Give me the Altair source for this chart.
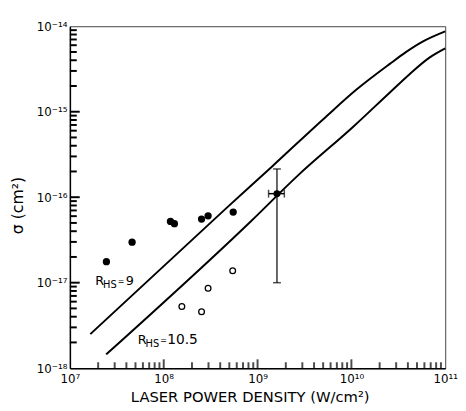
import altair as alt
import pandas as pd

# ---------------- data ----------------
# R_HS = 9 curve
curve9_x = [1.65e7, 4.62e8, 1.43e9, 5.15e9, 1.15e10, 2.57e10, 3.84e10, 5.74e10, 1.0e11]
curve9_y = [2.5e-18, 7.4e-17, 2.29e-16, 8.4e-16, 1.84e-15, 3.63e-15, 5.01e-15, 6.61e-15, 8.71e-15]
# R_HS = 10.5 curve
curve105_x = [2.44e7, 8.45e8, 2.7e9, 1.06e10, 2.57e10, 4.17e10, 6.79e10, 1.0e11]
curve105_y = [1.45e-18, 5.2e-17, 1.8e-16, 6.76e-16, 1.68e-15, 2.75e-15, 4.29e-15, 5.5e-15]

# filled circles
filled_x = [2.45e7, 4.6e7, 1.18e8, 1.30e8, 2.53e8, 2.97e8, 5.5e8]
filled_y = [1.76e-17, 2.98e-17, 5.2e-17, 4.9e-17, 5.55e-17, 6.05e-17, 6.7e-17]
# open circles
open_x = [1.56e8, 2.53e8, 2.97e8, 5.43e8]
open_y = [5.26e-18, 4.58e-18, 8.6e-18, 1.38e-17]

# point with error bars
err_x = [1.61e9]
err_y = [1.1e-16]
err_y_lo = [1.0e-17]
err_y_hi = [2.14e-16]
err_x_lo = [1.31e9]
err_x_hi = [1.93e9]

# axes
x_tick_values = [1e7, 1e8, 1e9, 1e10, 1e11]
x_tick_labels = ["10⁷", "10⁸", "10⁹", "10¹⁰", "10¹¹"]
y_tick_values = [1e-18, 1e-17, 1e-16, 1e-15, 1e-14]
y_tick_labels = ["10⁻¹⁸", "10⁻¹⁷", "10⁻¹⁶", "10⁻¹⁵", "10⁻¹⁴"]
minor_mult = [2, 3, 4, 5, 6, 7, 8, 9]
x_decades = [1e7, 1e8, 1e9, 1e10]
y_decades = [1e-18, 1e-17, 1e-16, 1e-15]

# curve labels (anchor positions in data units)
label9_pos = (1.86e7, 9.3e-18)
label105_pos = (5.28e7, 1.9e-18)

# ---------------- build tables ----------------
df9 = pd.DataFrame({"x": curve9_x, "y": curve9_y})
df105 = pd.DataFrame({"x": curve105_x, "y": curve105_y})
dff = pd.DataFrame({"x": filled_x, "y": filled_y})
dfo = pd.DataFrame({"x": open_x, "y": open_y})
dfe = pd.DataFrame({"x": err_x, "y": err_y, "ylo": err_y_lo, "yhi": err_y_hi,
                    "xlo": err_x_lo, "xhi": err_x_hi})
x_minor = pd.DataFrame({"x": [d * m for d in x_decades for m in minor_mult]})
x_major = pd.DataFrame({"x": x_tick_values[1:-1]})
y_minor = pd.DataFrame({"y": [d * m for d in y_decades for m in minor_mult]})
y_major = pd.DataFrame({"y": y_tick_values[1:-1]})
lab9 = pd.DataFrame({"x": [label9_pos[0]], "y": [label9_pos[1]]})
lab105 = pd.DataFrame({"x": [label105_pos[0]], "y": [label105_pos[1]]})

W, H = 382, 348
FONT = "DejaVu Sans"

xs = alt.Scale(type="log", domain=[1e7, 1e11], nice=False)
ys = alt.Scale(type="log", domain=[1e-18, 1e-14], nice=False)

x_lab_arr = "[" + ",".join("'" + s + "'" for s in x_tick_labels) + "]"
y_lab_arr = "[" + ",".join("'" + s + "'" for s in y_tick_labels) + "]"

x_axis = alt.Axis(
    values=x_tick_values,
    labelExpr=x_lab_arr + "[round(log(datum.value)/LN10) - 7]",
    ticks=False, grid=False, domainColor="black", domainWidth=1.5,
    labelFont=FONT, labelFontSize=12, labelColor="black", labelPadding=6,
    labelFlush=False, labelOverlap=False,
    title="LASER POWER DENSITY (W/cm²)", titleFont=FONT, titleFontSize=15,
    titleFontWeight="normal", titleColor="black",
    titleX=183, titleY=29, titleAlign="center", titleBaseline="middle",
)
y_axis = alt.Axis(
    values=y_tick_values,
    labelExpr=y_lab_arr + "[round(log(datum.value)/LN10) + 18]",
    ticks=False, grid=False, domainColor="black", domainWidth=1.5,
    labelFont=FONT, labelFontSize=12, labelColor="black", labelPadding=3,
    labelFlush=False, labelOverlap=False,
    title="σ (cm²)", titleFont=FONT, titleFontSize=16,
    titleFontWeight="normal", titleColor="black",
    titleX=-53, titleY=182, titleAlign="center", titleBaseline="middle", titleAngle=270,
)

X = lambda f="x": alt.X(f"{f}:Q", scale=xs, axis=x_axis)
Y = lambda f="y": alt.Y(f"{f}:Q", scale=ys, axis=y_axis)

line9 = alt.Chart(df9).mark_line(color="black", strokeWidth=2, interpolate="monotone").encode(x=X(), y=Y())
line105 = alt.Chart(df105).mark_line(color="black", strokeWidth=2, interpolate="monotone").encode(x=X(), y=Y())

filled = alt.Chart(dff).mark_point(filled=True, shape="circle", size=55, color="black", opacity=1).encode(x=X(), y=Y())
opened = alt.Chart(dfo).mark_point(filled=False, shape="circle", size=34, color="black", strokeWidth=1.3, opacity=1).encode(x=X(), y=Y())

err_pt = alt.Chart(dfe).mark_point(filled=True, shape="circle", size=50, color="black", opacity=1).encode(x=X(), y=Y())
err_v = alt.Chart(dfe).mark_rule(color="black", strokeWidth=1.2).encode(x=X(), y=Y("ylo"), y2="yhi:Q")
err_h = alt.Chart(dfe).mark_rule(color="black", strokeWidth=1.5).encode(x=X("xlo"), x2="xhi:Q", y=Y())
cap_lo = alt.Chart(dfe).mark_tick(orient="horizontal", size=8, thickness=1.5, color="black").encode(x=X(), y=Y("ylo"))
cap_hi = alt.Chart(dfe).mark_tick(orient="horizontal", size=8, thickness=1.5, color="black").encode(x=X(), y=Y("yhi"))
cap_l = alt.Chart(dfe).mark_tick(orient="vertical", size=8, thickness=1.5, color="black").encode(x=X("xlo"), y=Y())
cap_r = alt.Chart(dfe).mark_tick(orient="vertical", size=8, thickness=1.5, color="black").encode(x=X("xhi"), y=Y())

# inward axis ticks (same construction as the variant that rendered, now in black)
xt_minor = alt.Chart(x_minor).mark_tick(orient="vertical", size=6, thickness=2, color="#000000").encode(
    x=X(), y=alt.value(H - 3))
xt_major = alt.Chart(x_major).mark_tick(orient="vertical", size=9, thickness=2, color="#000000").encode(
    x=X(), y=alt.value(H - 4.5))
yt_minor = alt.Chart(y_minor).mark_rule(color="#000000", strokeWidth=2).encode(
    y=Y(), x=alt.value(0), x2=alt.value(7))
yt_major = alt.Chart(y_major).mark_rule(color="#000000", strokeWidth=2).encode(
    y=Y(), x=alt.value(0), x2=alt.value(10))


def label(df, pieces):
    layers = []
    for text, dx, dy, fs in pieces:
        layers.append(
            alt.Chart(df).mark_text(text=text, align="left", baseline="alphabetic",
                                    dx=dx, dy=dy, font=FONT, fontSize=fs, color="black")
            .encode(x=X(), y=Y())
        )
    return layers


lab9_layers = label(lab9, [("R", 0, 0, 13), ("HS", 8, 3, 10), ("=", 23, -1, 8), ("9", 31, 0, 13)])
lab105_layers = label(lab105, [("R", 0, 0, 13), ("HS", 8, 3, 10), ("=", 23, -1, 8), ("10.5", 30, 0, 14)])

chart = alt.layer(
    line9, line105, filled, opened, err_v, err_h, cap_lo, cap_hi, cap_l, cap_r, err_pt,
    *lab9_layers, *lab105_layers,
    xt_minor, xt_major, yt_minor, yt_major,
).properties(
    width=W, height=H,
    autosize=alt.AutoSizeParams(type="none"),
    padding={"left": 63, "top": 15, "right": 13, "bottom": 38},
).configure_view(stroke="#444444", strokeWidth=1)

chart.save("out.html", embed_options={"renderer": "svg", "actions": False})
